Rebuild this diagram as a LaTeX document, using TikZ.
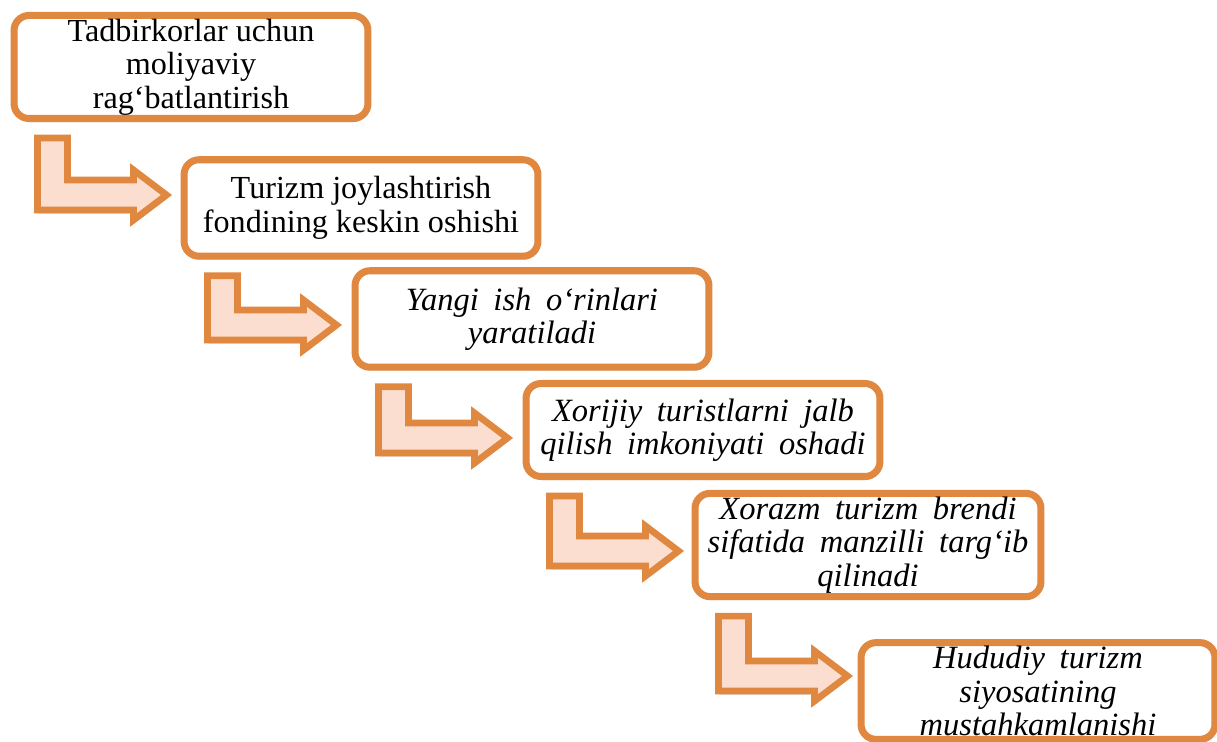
\documentclass[tikz,border=0pt]{standalone}
\usepackage{fontspec}
\setmainfont{Liberation Serif}
\usetikzlibrary{calc,shadows,backgrounds}
\definecolor{boxorange}{RGB}{224,135,64}
\definecolor{arrowfill}{RGB}{252,222,208}
\newcommand{\wideitalic}{\itshape\spaceskip=0.45em plus 0.1em\relax}

\begin{document}
\begin{tikzpicture}[x=0.02cm,y=-0.02cm,
	stepbox/.style={draw=boxorange,line width=4pt,rounded corners=0.3cm,fill=white,
		minimum width=7.08cm,minimum height=1.93cm,align=center,inner sep=2pt,
		font=\fontsize{18.3}{19}\selectfont,
		drop shadow={opacity=0.3,shadow xshift=0.5pt,shadow yshift=-2pt}},
	slanted/.style={font=\fontsize{18.5}{19}\selectfont\wideitalic},
	bendarrow/.style={draw=boxorange,line width=3.8pt,fill=arrowfill,line join=miter,
		drop shadow={opacity=0.3,shadow xshift=0.5pt,shadow yshift=-2pt}}]
	\useasboundingbox (0,0) rectangle (1217,742);
	\node[stepbox] (b1) at (191,67) {Tadbirkorlar uchun\\moliyaviy\\rag‘batlantirish};
	\node[stepbox] (b2) at (361,208) {Turizm joylashtirish\\fondining keskin oshishi};
	\node[stepbox,slanted] (b3) at (532,319) {Yangi ish o‘rinlari\\yaratiladi};
	\node[stepbox,slanted,minimum height=1.86cm] (b4) at (703,430) {Xorijiy turistlarni jalb\\qilish imkoniyati oshadi};
	\node[stepbox,slanted,minimum width=6.92cm] (b5) at (868,545) {Xorazm turizm brendi\\sifatida manzilli targ‘ib\\qilinadi};
	\node[stepbox,slanted] (b6) at (1038,691) {Hududiy turizm\\siyosatining\\mustahkamlanishi};
	\begin{scope}[on background layer]
	\foreach \a/\b/\dy in {b1/b2/-13,b2/b3/6,b3/b4/8,b4/b5/6,b5/b6/-15}{
		\coordinate (s) at ($(\a.south west)+(27,16)$);
		\coordinate (m) at ($(s |- \b.west)+(0,\dy)$);
		\draw[bendarrow] (s) -- ++(30,0) -- ($(m)+(30,-15)$) -- ($(m)+(96,-15)$) -- ($(m)+(96,-25)$)
			-- ($(m)+(129,0)$) -- ($(m)+(96,25)$) -- ($(m)+(96,15)$) -- ($(m)+(0,15)$) -- cycle;}
	\end{scope}
\end{tikzpicture}
\end{document}
